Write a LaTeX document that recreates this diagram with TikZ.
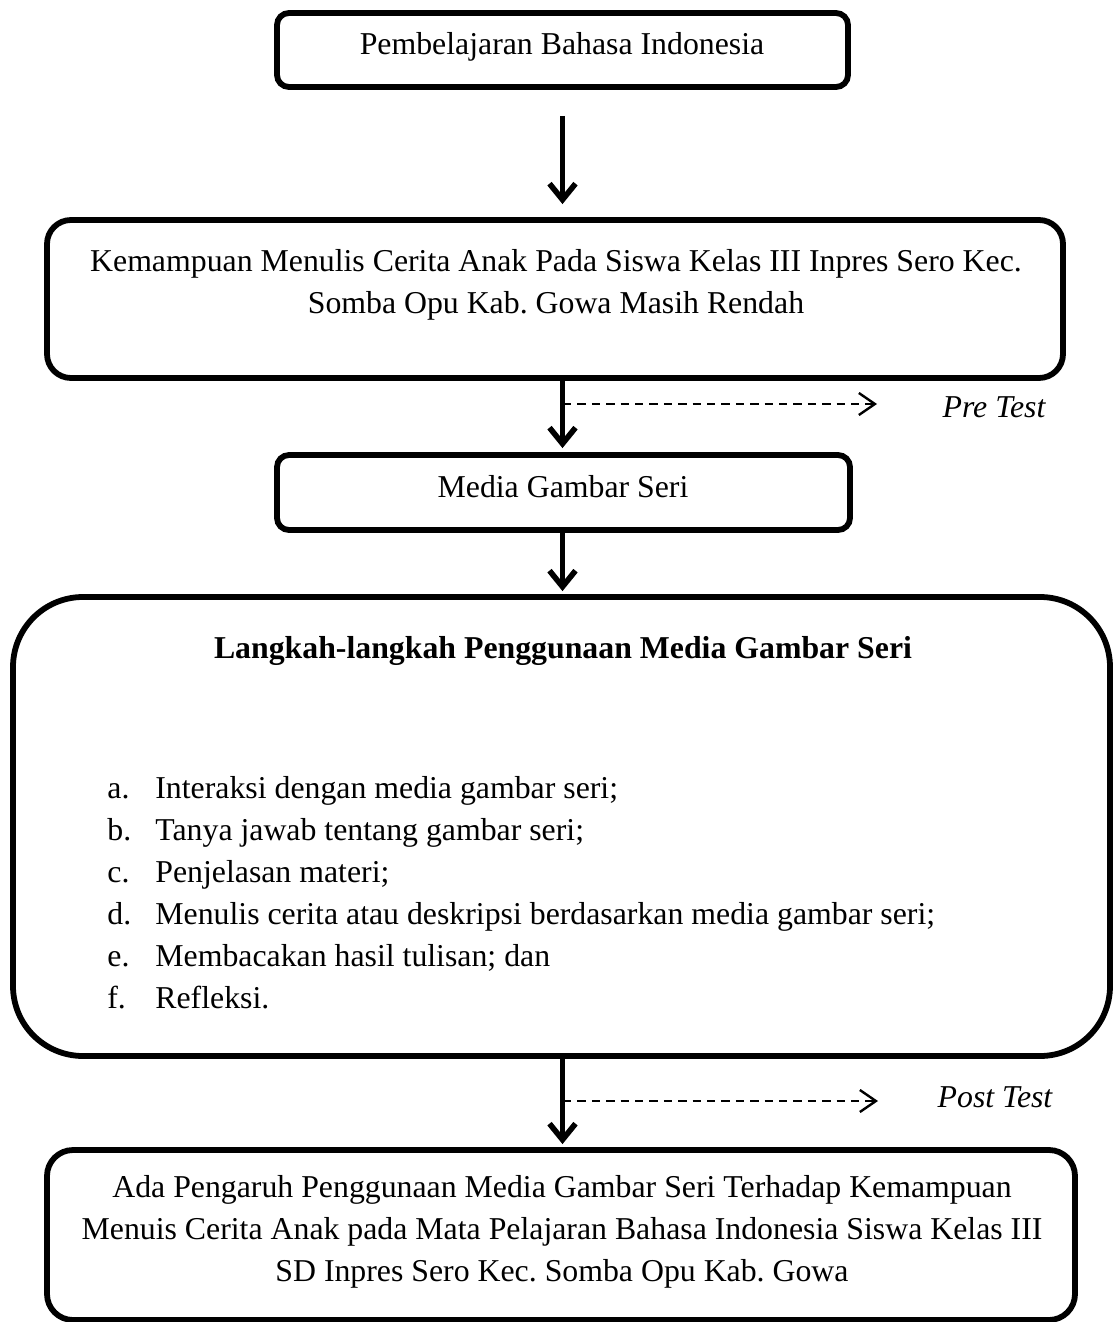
\documentclass[tikz,border=0pt]{standalone}
\usepackage{fontspec}
\setmainfont{Liberation Serif}
\usetikzlibrary{arrows.meta}
\frenchspacing
\begin{document}
\begin{tikzpicture}[x=0.5pt,y=-0.5pt,
  font=\fontsize{15.9pt}{21pt}\selectfont\frenchspacing,
  box/.style={draw, line width=2.9pt, inner sep=0pt},
  txt/.style={align=center, inner sep=0pt},
  arr/.style={line width=2.8pt, -{Straight Barb[length=8pt,width=13pt]}},
  dasharr/.style={line width=1.2pt, dash pattern=on 4.2pt off 3pt, -{Straight Barb[length=8pt,width=11pt]}}
]
\useasboundingbox (0,0) rectangle (1113,1322);

% boxes
\node[box, rounded corners=6pt, minimum width=285.5pt, minimum height=37pt] (b1) at (562.5,50) {};
\node[box, rounded corners=12pt, minimum width=508pt, minimum height=79pt] (b2) at (555,299) {};
\node[box, rounded corners=6pt, minimum width=286.5pt, minimum height=37.5pt] (b3) at (563.5,492.5) {};
\node[box, rounded corners=35pt, minimum width=548.5pt, minimum height=229.5pt] (b4) at (561.5,826.5) {};
\node[box, rounded corners=13pt, minimum width=514pt, minimum height=85pt] (b5) at (561,1235) {};

% texts
\node[txt] (t1) at (562,47) {Pembelajaran Bahasa Indonesia};
\node[txt] (t2) at (556,285) {Kemampuan Menulis Cerita Anak Pada Siswa Kelas III Inpres Sero Kec.\\Somba Opu Kab. Gowa Masih Rendah};
\node[txt] (t3) at (563,487) {Media Gambar Seri};
\node[txt, font=\fontsize{15.9pt}{21pt}\selectfont\bfseries] (t4) at (563,651) {Langkah-langkah Penggunaan Media Gambar Seri};
\node[inner sep=0pt, anchor=base west] (t4l) at (107,798) {%
\begin{tabular}[t]{@{}l@{}l@{}}
\makebox[24pt][l]{a.} & Interaksi dengan media gambar seri;\\
\makebox[24pt][l]{b.} & Tanya jawab tentang gambar seri;\\
\makebox[24pt][l]{c.} & Penjelasan materi;\\
\makebox[24pt][l]{d.} & Menulis cerita atau deskripsi berdasarkan media gambar seri;\\
\makebox[24pt][l]{e.} & Membacakan hasil tulisan; dan\\
\makebox[24pt][l]{f.} & Refleksi.
\end{tabular}};
\node[txt] (t5) at (562,1232) {Ada Pengaruh Penggunaan Media Gambar Seri Terhadap Kemampuan\\Menuis Cerita Anak pada Mata Pelajaran Bahasa Indonesia Siswa Kelas III\\SD Inpres Sero Kec. Somba Opu Kab. Gowa};

\node[txt, font=\fontsize{15.9pt}{21pt}\selectfont\itshape] (pre) at (994,407) {Pre Test};
\node[txt, font=\fontsize{15.9pt}{21pt}\selectfont\itshape] (post) at (995,1097) {Post Test};

% main arrows
\draw[arr, shorten <=13pt, shorten >=6.5pt] (b1.south) -- (b1.south |- b2.north);
\draw[arr, shorten >=2pt] (b1.south |- b2.south) -- (b1.south |- b3.north);
\draw[arr, shorten >=1.5pt] (b1.south |- b3.south) -- (b1.south |- b4.north);
\draw[arr, shorten >=1.5pt] (b1.south |- b4.south) -- (b1.south |- b5.north);

% dashed arrows
\coordinate (d1s) at (563,404);
\coordinate (d1e) at (877,404);
\coordinate (d2s) at (563,1101);
\coordinate (d2e) at (878,1101);
\draw[dasharr] (d1s) -- (d1e);
\draw[dasharr] (d2s) -- (d2e);
\end{tikzpicture}
\end{document}
